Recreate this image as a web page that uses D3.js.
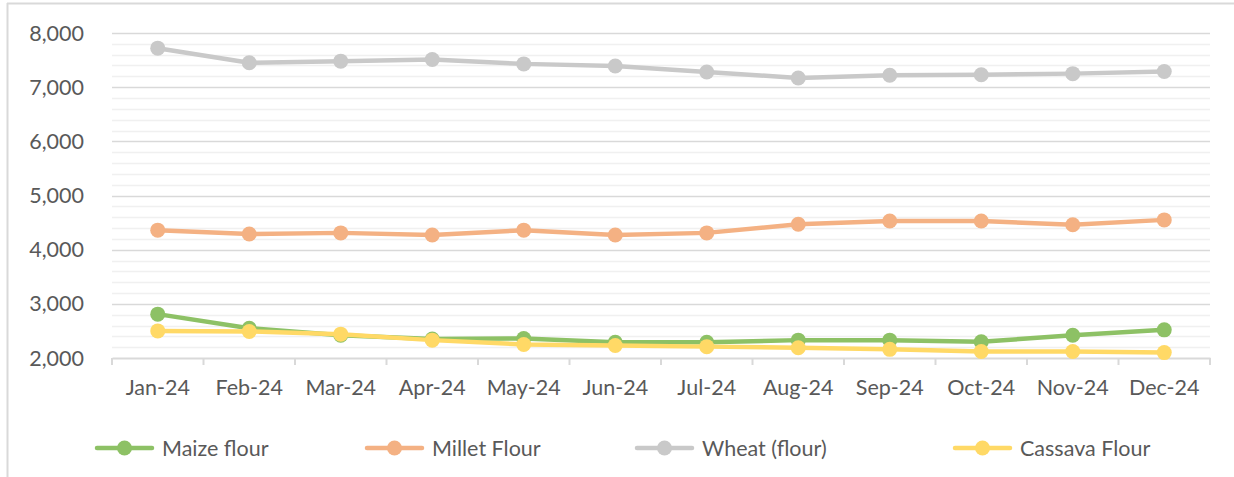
<!DOCTYPE html>
<html>
<head>
<meta charset="utf-8">
<script src="https://cdn.jsdelivr.net/npm/d3@7"></script>
<style>
  body { margin: 0; background: #fff; }
  text { font-family: Lato, "Open Sans", sans-serif; fill: #595959; }
</style>
</head>
<body>
<div id="chart"></div>
<script>
// data
var months = ["Jan-24", "Feb-24", "Mar-24", "Apr-24", "May-24", "Jun-24",
              "Jul-24", "Aug-24", "Sep-24", "Oct-24", "Nov-24", "Dec-24"];
var maize   = [2810, 2550, 2420, 2350, 2360, 2290, 2290, 2330, 2330, 2300, 2420, 2520];
var millet  = [4360, 4290, 4310, 4270, 4360, 4270, 4310, 4470, 4530, 4530, 4460, 4550];
var wheat   = [7720, 7450, 7480, 7510, 7430, 7390, 7280, 7170, 7220, 7230, 7250, 7290];
var cassava = [2500, 2490, 2440, 2330, 2250, 2230, 2210, 2190, 2160, 2120, 2120, 2100];
var seriesNames = ["Maize flour", "Millet Flour", "Wheat (flour)", "Cassava Flour"];
var colors = ["#8DC165", "#F4B183", "#C9C9C9", "#FFD966"];
var yTicks = [2000, 3000, 4000, 5000, 6000, 7000, 8000];

var series = [maize, millet, wheat, cassava].map(function(vals, i) {
    return { name: seriesNames[i], color: colors[i], values: vals };
});

var width = 1234, height = 477;
var margin = { top: 33, left: 112, right: 24, bottom: 119 };
var fontSize = 21.5;

var svg = d3.select("#chart").append("svg")
    .attr("width", width)
    .attr("height", height);

// outer frame
svg.append("line").attr("x1", 7).attr("x2", width).attr("y1", 3.5).attr("y2", 3.5)
    .attr("stroke", "#d9d9d9").attr("stroke-width", 2);
svg.append("line").attr("x1", 7.5).attr("x2", 7.5).attr("y1", 3).attr("y2", height)
    .attr("stroke", "#d9d9d9").attr("stroke-width", 2);

var x = d3.scaleBand()
    .domain(months)
    .range([margin.left, width - margin.right]);

var y = d3.scaleLinear()
    .domain([2000, 8000])
    .range([height - margin.bottom, margin.top]);

// minor gridlines every 200
var minor = d3.range(2200, 8000, 200).filter(function(v) { return v % 1000 != 0; });
svg.append("g").selectAll("line").data(minor).enter().append("line")
    .attr("x1", margin.left).attr("x2", width - margin.right)
    .attr("y1", d => Math.round(y(d)) + 0.5).attr("y2", d => Math.round(y(d)) + 0.5)
    .attr("stroke", "#f0f0f0").attr("stroke-width", 1.5);

// major gridlines
svg.append("g").selectAll("line").data(yTicks.slice(1)).enter().append("line")
    .attr("x1", margin.left).attr("x2", width - margin.right)
    .attr("y1", d => Math.round(y(d)) + 0.5).attr("y2", d => Math.round(y(d)) + 0.5)
    .attr("stroke", "#d9d9d9").attr("stroke-width", 1.5);

// y axis labels
svg.append("g").selectAll("text").data(yTicks).enter().append("text")
    .attr("x", 84)
    .attr("y", d => y(d))
    .attr("dy", "0.35em")
    .attr("text-anchor", "end")
    .attr("font-size", fontSize)
    .text(d3.format(","));

// x axis
var xAxis = d3.axisBottom(x).tickSize(0).tickPadding(22);
var gx = svg.append("g")
    .attr("transform", "translate(0," + y(2000) + ")")
    .call(xAxis);
gx.select(".domain").attr("stroke", "#d9d9d9").attr("stroke-width", 2);
gx.selectAll("text").attr("font-size", fontSize).attr("fill", "#595959")
    .style("font-family", "Lato, 'Open Sans', sans-serif");

// category boundary ticks
var bounds = months.map(m => x(m)).concat([x(months[months.length - 1]) + x.bandwidth()]);
gx.selectAll(".bound").data(bounds).enter().append("line")
    .attr("class", "bound")
    .attr("x1", d => d).attr("x2", d => d)
    .attr("y1", 0).attr("y2", 7)
    .attr("stroke", "#d9d9d9").attr("stroke-width", 2);

var line = d3.line()
    .x((d, i) => x(months[i]) + x.bandwidth() / 2)
    .y(d => y(d));

series.forEach(function(s) {
    var g = svg.append("g");
    g.append("path")
        .attr("d", line(s.values))
        .attr("fill", "none")
        .attr("stroke", s.color)
        .attr("stroke-width", 4.5)
        .attr("stroke-linejoin", "round");
    g.selectAll("circle").data(s.values).enter().append("circle")
        .attr("cx", (d, i) => x(months[i]) + x.bandwidth() / 2)
        .attr("cy", d => y(d))
        .attr("r", 7.5)
        .attr("fill", s.color);
});

// legend
var legendX = [97, 367, 637, 955];
var legend = svg.append("g").attr("transform", "translate(0,448)");
series.forEach(function(s, i) {
    var lg = legend.append("g").attr("transform", "translate(" + legendX[i] + ",0)");
    lg.append("line").attr("x1", 0).attr("x2", 55).attr("y1", 0).attr("y2", 0)
        .attr("stroke", s.color).attr("stroke-width", 4.5).attr("stroke-linecap", "round");
    lg.append("circle").attr("cx", 27.5).attr("cy", 0).attr("r", 7.5).attr("fill", s.color);
    lg.append("text").attr("x", 65).attr("y", 0).attr("dy", "0.35em")
        .attr("font-size", fontSize).text(s.name);
});
</script>
</body>
</html>
